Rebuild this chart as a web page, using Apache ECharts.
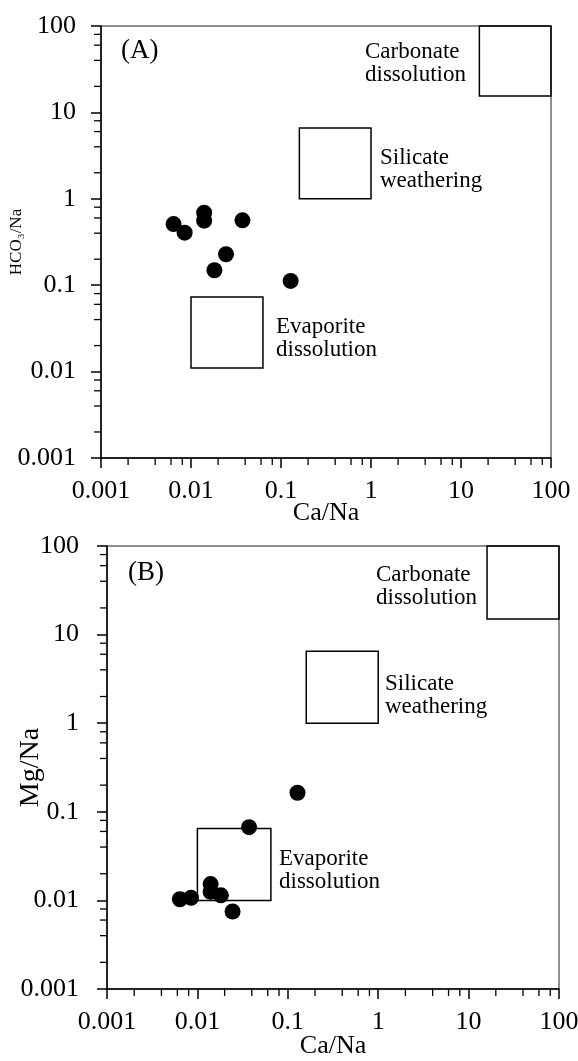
<!DOCTYPE html>
<html>
<head>
<meta charset="utf-8">
<script src="https://cdn.jsdelivr.net/npm/echarts@6/dist/echarts.min.js"></script>
<style>
  * { margin: 0; padding: 0; }
  body { background: #fff; }
  #main { width: 578px; height: 1061px; }
</style>
</head>
<body>
<div id="main"></div>
<script>
// samples (same Ca/Na for both panels)
var caNa = [0.0064, 0.0085, 0.0140, 0.0140, 0.0182, 0.0245, 0.0373, 0.128];
var hco3Na = [0.51, 0.405, 0.69, 0.558, 0.149, 0.228, 0.564, 0.112];
var mgNa = [0.0103, 0.0107, 0.0153, 0.0125, 0.0114, 0.0075, 0.067, 0.164];

// end-member boxes [xmin, xmax, ymin, ymax]
var boxesA = [[0.01, 0.063, 0.011, 0.073], [0.16, 1, 1, 6.6], [16, 100, 15.5, 100]];
var boxesB = [[0.01, 0.065, 0.01, 0.065], [0.16, 1, 1, 6.5], [16, 100, 15, 100]];

var tickLabels = ['0.001', '0.01', '0.1', '1', '10', '100'];
var minorTicks = [0.002, 0.004, 0.006, 0.008, 0.02, 0.04, 0.06, 0.08, 0.2, 0.4, 0.6, 0.8,
                  2, 4, 6, 8, 20, 40, 60, 80];

var serif = 'Liberation Serif';
var chart = echarts.init(document.getElementById('main'));

function pts(xs, ys) {
  return xs.map(function (x, i) { return [x, ys[i]]; });
}
function areas(boxes) {
  return boxes.map(function (b) {
    return [{ xAxis: b[0], yAxis: b[2] }, { xAxis: b[1], yAxis: b[3] }];
  });
}
function logAxis(grid, name, gap, labelMargin, nameSize) {
  return {
    type: 'log', logBase: 10, min: 0.001, max: 100, gridIndex: grid,
    name: name, nameLocation: 'middle', nameGap: gap, nameMoveOverlap: false,
    nameTextStyle: { fontFamily: serif, fontSize: nameSize, color: '#000' },
    axisLine: { lineStyle: { color: '#000', width: 1.5 } },
    axisTick: { inside: false, length: 10, lineStyle: { color: '#000', width: 1.5 } },
    axisLabel: {
      margin: labelMargin, fontFamily: serif, fontSize: 26, color: '#000',
      formatter: function (v, i) { return tickLabels[i]; }
    },
    splitLine: { show: false }
  };
}
function minorSeries(grid, dir) {
  return {
    type: 'custom', xAxisIndex: grid, yAxisIndex: grid, silent: true,
    data: minorTicks.map(function (v) { return dir === 'x' ? [v, 0.001] : [0.001, v]; }),
    renderItem: function (params, api) {
      var p = api.coord([api.value(0), api.value(1)]);
      var shape = dir === 'x'
        ? { x1: p[0], y1: p[1], x2: p[0], y2: p[1] + 7 }
        : { x1: p[0], y1: p[1], x2: p[0] - 7, y2: p[1] };
      return { type: 'line', shape: shape, style: { stroke: '#000', lineWidth: 1.3 } };
    }
  };
}
function scatter(grid, data, boxes) {
  return {
    type: 'scatter', xAxisIndex: grid, yAxisIndex: grid,
    data: data, symbolSize: 16, itemStyle: { color: '#000', opacity: 1 },
    markArea: {
      silent: true,
      itemStyle: { color: 'rgba(0,0,0,0)', borderColor: '#000', borderWidth: 1.5 },
      data: areas(boxes)
    }
  };
}
function txt(x, y, s, size) {
  return {
    type: 'text', left: x, top: y,
    style: { text: s, font: size + 'px "' + serif + '"', fill: '#000', lineHeight: 23 }
  };
}

chart.setOption({
  animation: false,
  backgroundColor: '#fff',
  grid: [
    { left: 101, top: 26, width: 450, height: 432, outerBoundsMode: 'none',
      show: true, borderColor: '#222', borderWidth: 1 },
    { left: 107, top: 546, width: 452, height: 443, outerBoundsMode: 'none',
      show: true, borderColor: '#222', borderWidth: 1 }
  ],
  xAxis: [logAxis(0, 'Ca/Na', 42, 20, 26), logAxis(1, 'Ca/Na', 44, 20, 26)],
  yAxis: [logAxis(0, 'HCO\u2083/Na', 76, 25, 17), logAxis(1, 'Mg/Na', 62, 28, 28)],
  series: [
    scatter(0, pts(caNa, hco3Na), boxesA),
    scatter(1, pts(caNa, mgNa), boxesB),
    minorSeries(0, 'x'), minorSeries(0, 'y'),
    minorSeries(1, 'x'), minorSeries(1, 'y')
  ],
  graphic: [
    txt(121, 37, '(A)', 27),
    txt(365, 40, 'Carbonate\ndissolution', 23),
    txt(380, 146, 'Silicate\nweathering', 23),
    txt(276, 315, 'Evaporite\ndissolution', 23),
    txt(128, 559, '(B)', 27),
    txt(376, 563, 'Carbonate\ndissolution', 23),
    txt(385, 672, 'Silicate\nweathering', 23),
    txt(279, 847, 'Evaporite\ndissolution', 23)
  ]
});
</script>
</body>
</html>
